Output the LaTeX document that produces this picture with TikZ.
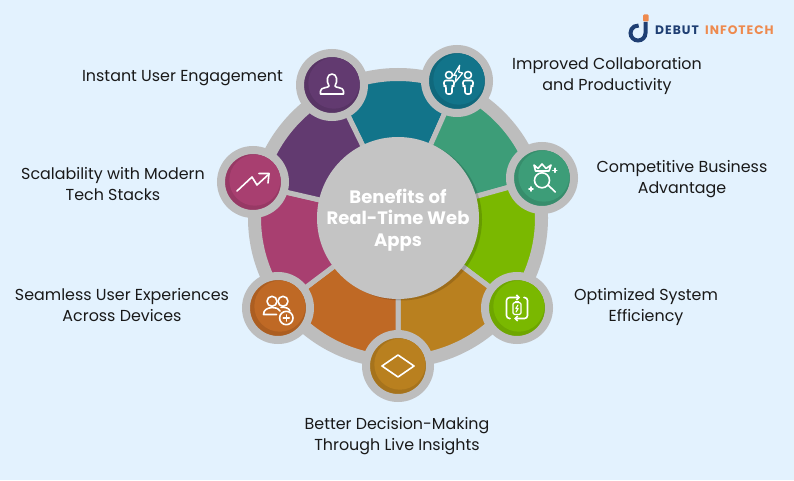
\documentclass[tikz,border=0pt]{standalone}
\usepackage{fontspec}
\setmainfont{Poppins}
\newfontfamily\logofont[LetterSpace=8]{Poppins}
\usetikzlibrary{arrows.meta}
\definecolor{skybg}{HTML}{E3F2FE}
\definecolor{ringgray}{HTML}{BDBDBD}
\definecolor{hubgray}{HTML}{C4C4C4}
\definecolor{tealseg}{HTML}{12748A}
\definecolor{greenseg}{HTML}{3D9D78}
\definecolor{limeseg}{HTML}{7AB800}
\definecolor{goldseg}{HTML}{B9801F}
\definecolor{orangeseg}{HTML}{BF6925}
\definecolor{pinkseg}{HTML}{A83F70}
\definecolor{purpleseg}{HTML}{623A70}
\definecolor{logonavy}{HTML}{1F3F73}
\definecolor{logoorange}{HTML}{EE8A4E}
\tikzset{
  seg/.style={draw=ringgray,line width=5pt,line join=round},
  disc/.style={circle,draw=ringgray,line width=8pt,minimum size=64pt,inner sep=0pt},
  face/.style={circle,minimum size=51pt,inner sep=0pt},
  glyph/.style={draw=white,line width=1.6pt,line join=round,line cap=round},
  caption/.style={text=black!90,align=center,font=\fontsize{15.9}{21}\selectfont},
}
\begin{document}
\begin{tikzpicture}[x=1pt,y=1pt]
  \path[use as bounding box,fill=skybg] (0,0) rectangle (794,480);

  % ring
  \coordinate (ringc) at (398,262);
  \fill[ringgray] (ringc) circle[radius=150];
  \draw[seg,fill=tealseg] (ringc) -- ++(66:139.5) arc[start angle=66,end angle=116,radius=139.5] -- cycle;
  \draw[seg,fill=greenseg] (ringc) -- ++(15.5:139.5) arc[start angle=15.5,end angle=66,radius=139.5] -- cycle;
  \draw[seg,fill=limeseg] (ringc) -- ++(-37:139.5) arc[start angle=-37,end angle=15.5,radius=139.5] -- cycle;
  \draw[seg,fill=goldseg] (ringc) -- ++(-90:139.5) arc[start angle=-90,end angle=-37,radius=139.5] -- cycle;
  \draw[seg,fill=orangeseg] (ringc) -- ++(217:139.5) arc[start angle=217,end angle=270,radius=139.5] -- cycle;
  \draw[seg,fill=pinkseg] (ringc) -- ++(167:139.5) arc[start angle=167,end angle=217,radius=139.5] -- cycle;
  \draw[seg,fill=purpleseg] (ringc) -- ++(116:139.5) arc[start angle=116,end angle=167,radius=139.5] -- cycle;

  % hub
  \fill[black,opacity=.15] ([shift={(3,-1.5)}]ringc) circle[radius=81];
  \node[circle,fill=hubgray,minimum size=162pt,inner sep=0pt] (hub) at (ringc) {};
  \node[text=white,align=center,font=\fontsize{18}{21.5}\selectfont\bfseries] (hublabel) at ([yshift=-2]hub) {Benefits of\\Real-Time Web\\Apps};

  % discs
  \node[disc,fill=purpleseg!90!black] (userdisc) at (332,395) {};
  \node[face,fill=purpleseg] (userface) at ([shift={(1.8,1.8)}]userdisc) {};
  \node[disc,fill=tealseg!90!black] (teamdisc) at (457,399) {};
  \node[face,fill=tealseg] (teamface) at ([shift={(1.8,1.8)}]teamdisc) {};
  \node[disc,fill=greenseg!90!black] (crowndisc) at (542,302) {};
  \node[face,fill=greenseg] (crownface) at ([shift={(1.8,1.8)}]crowndisc) {};
  \node[disc,fill=limeseg!90!black] (powerdisc) at (517,172) {};
  \node[face,fill=limeseg] (powerface) at ([shift={(1.8,1.8)}]powerdisc) {};
  \node[disc,fill=goldseg!90!black] (decidedisc) at (398,114) {};
  \node[face,fill=goldseg] (decideface) at ([shift={(1.8,1.8)}]decidedisc) {};
  \node[disc,fill=orangeseg!90!black] (peopledisc) at (278,172) {};
  \node[face,fill=orangeseg] (peopleface) at ([shift={(1.8,1.8)}]peopledisc) {};
  \node[disc,fill=pinkseg!90!black] (chartdisc) at (253,298) {};
  \node[face,fill=pinkseg] (chartface) at ([shift={(1.8,1.8)}]chartdisc) {};

  % icons
  \begin{scope}[shift={(userdisc)}]
    \draw[glyph] (-3,-1) .. controls (-6,4) and (-5,11) .. (0,11) .. controls (5,11) and (6,4) .. (3,-1)
      .. controls (3,-3) and (11.5,-2) .. (11.5,-6) -- (11.5,-9) -- (-11.5,-9) -- (-11.5,-6)
      .. controls (-11.5,-2) and (-3,-3) .. (-3,-1) -- cycle;
  \end{scope}
  \begin{scope}[shift={(teamdisc)}]
    \draw[glyph] (-8,6) circle[radius=3.5];
    \draw[glyph] (11,6) circle[radius=3.5];
    \draw[glyph,rounded corners=2pt] (-13,-5) -- (-13,0.5) -- (-3,0.5) -- (-3,-5) -- (-5,-5) -- (-5,-13) -- (-11,-13) -- (-11,-5) -- cycle;
    \draw[glyph,rounded corners=2pt] (6,-5) -- (6,0.5) -- (16,0.5) -- (16,-5) -- (14,-5) -- (14,-13) -- (8,-13) -- (8,-5) -- cycle;
    \draw[glyph,line width=1.2pt] (-3.3,5.7) -- (2.7,15.7) -- (1.7,9) -- (5.7,8) -- (-1.7,-1) -- (-0.7,5.7) -- cycle;
  \end{scope}
  \begin{scope}[shift={(crowndisc)}]
    \draw[glyph] (-8,13) -- (-6.5,7) -- (7,7) -- (9,13) -- (4,9.5) -- (0,14) -- (-4,9.5) -- cycle;
    \draw[glyph] (0,-2.3) circle[radius=7.5];
    \draw[glyph] (6.7,-7.7) -- (13.3,-14);
    \draw[glyph] (12.7,5.7) -- (12.7,9.7) (10.7,7.7) -- (14.7,7.7);
    \draw[glyph] (-11,-13) -- (-11,-9) (-13,-11) -- (-9,-11);
  \end{scope}
  \begin{scope}[shift={(powerdisc)}]
    \draw[glyph,-{Straight Barb[length=2.5pt,width=5pt]},rounded corners=3pt] (-7,-10.5) -- (-10.5,-10.5) -- (-10.5,10.5) -- (3,10.5);
    \draw[glyph,-{Straight Barb[length=2.5pt,width=5pt]},rounded corners=3pt] (7,10.5) -- (10.5,10.5) -- (10.5,-10.5) -- (-3,-10.5);
    \draw[glyph,line width=1.1pt,rounded corners=1.5pt] (-4,-6.5) rectangle (4,5.5);
    \draw[glyph,line width=1.1pt] (-1.5,6.5) -- (1.5,6.5);
    \draw[glyph,line width=1.1pt] (1,3) -- (-1.2,-0.5) -- (1.2,-0.5) -- (-1,-4);
  \end{scope}
  \begin{scope}[shift={(decidedisc)}]
    \draw[glyph] (-16,0) -- (0,11) -- (16,0) -- (0,-11) -- cycle;
  \end{scope}
  \begin{scope}[shift={(peopledisc)}]
    \draw[glyph] (-6,6.7) circle[radius=5];
    \draw[glyph] (5,6.7) circle[radius=5];
    \draw[glyph] (-1.5,-6.5) -- (-14.5,-6.5) .. controls (-14.5,-2) and (-11,0) .. (-6,0.5) .. controls (-3,0.5) and (0,0) .. (2,-3);
    \draw[glyph] (3,0.7) .. controls (7,1) and (11,0) .. (12,-3);
    \draw[glyph] (8.3,-10) circle[radius=6.7];
    \draw[glyph] (8.3,-13) -- (8.3,-7) (5.3,-10) -- (11.3,-10);
  \end{scope}
  \begin{scope}[shift={(chartdisc)}]
    \draw[glyph] (-16,-9) -- (-1,5) -- (4,-3) -- (16,8);
    \draw[glyph] (6,8.5) -- (16,8.5) -- (15,-1);
  \end{scope}

  % captions
  \node[caption] (userlabel) at (182.5,402) {Instant User Engagement};
  \node[caption] (teamlabel) at (607,404) {Improved Collaboration\\and Productivity};
  \node[caption] (crownlabel) at (682,301) {Competitive Business\\Advantage};
  \node[caption] (powerlabel) at (646,173) {Optimized System\\Efficiency};
  \node[caption] (decidelabel) at (397,44) {Better Decision-Making\\Through Live Insights};
  \node[caption] (peoplelabel) at (122,175) {Seamless User Experiences\\Across Devices};
  \node[caption] (chartlabel) at (113,296) {Scalability with Modern\\Tech Stacks};

  % logo
  \draw[logonavy,line width=4pt] (645.5,458) -- (645.5,447) arc[start angle=0,end angle=-275,radius=7.5];
  \fill[logoorange,rounded corners=1pt] (643,458.5) rectangle (648.5,465.5);
  \node[anchor=west,inner sep=0pt,text=logonavy,font=\logofont\fontsize{12.3}{12}\selectfont\bfseries] (debutlabel) at (655,449.5) {DEBUT};
  \node[anchor=west,inner sep=0pt,text=logoorange,font=\logofont\fontsize{12.3}{12}\selectfont\bfseries] (infolabel) at (705,449.5) {INFOTECH};
\end{tikzpicture}
\end{document}
